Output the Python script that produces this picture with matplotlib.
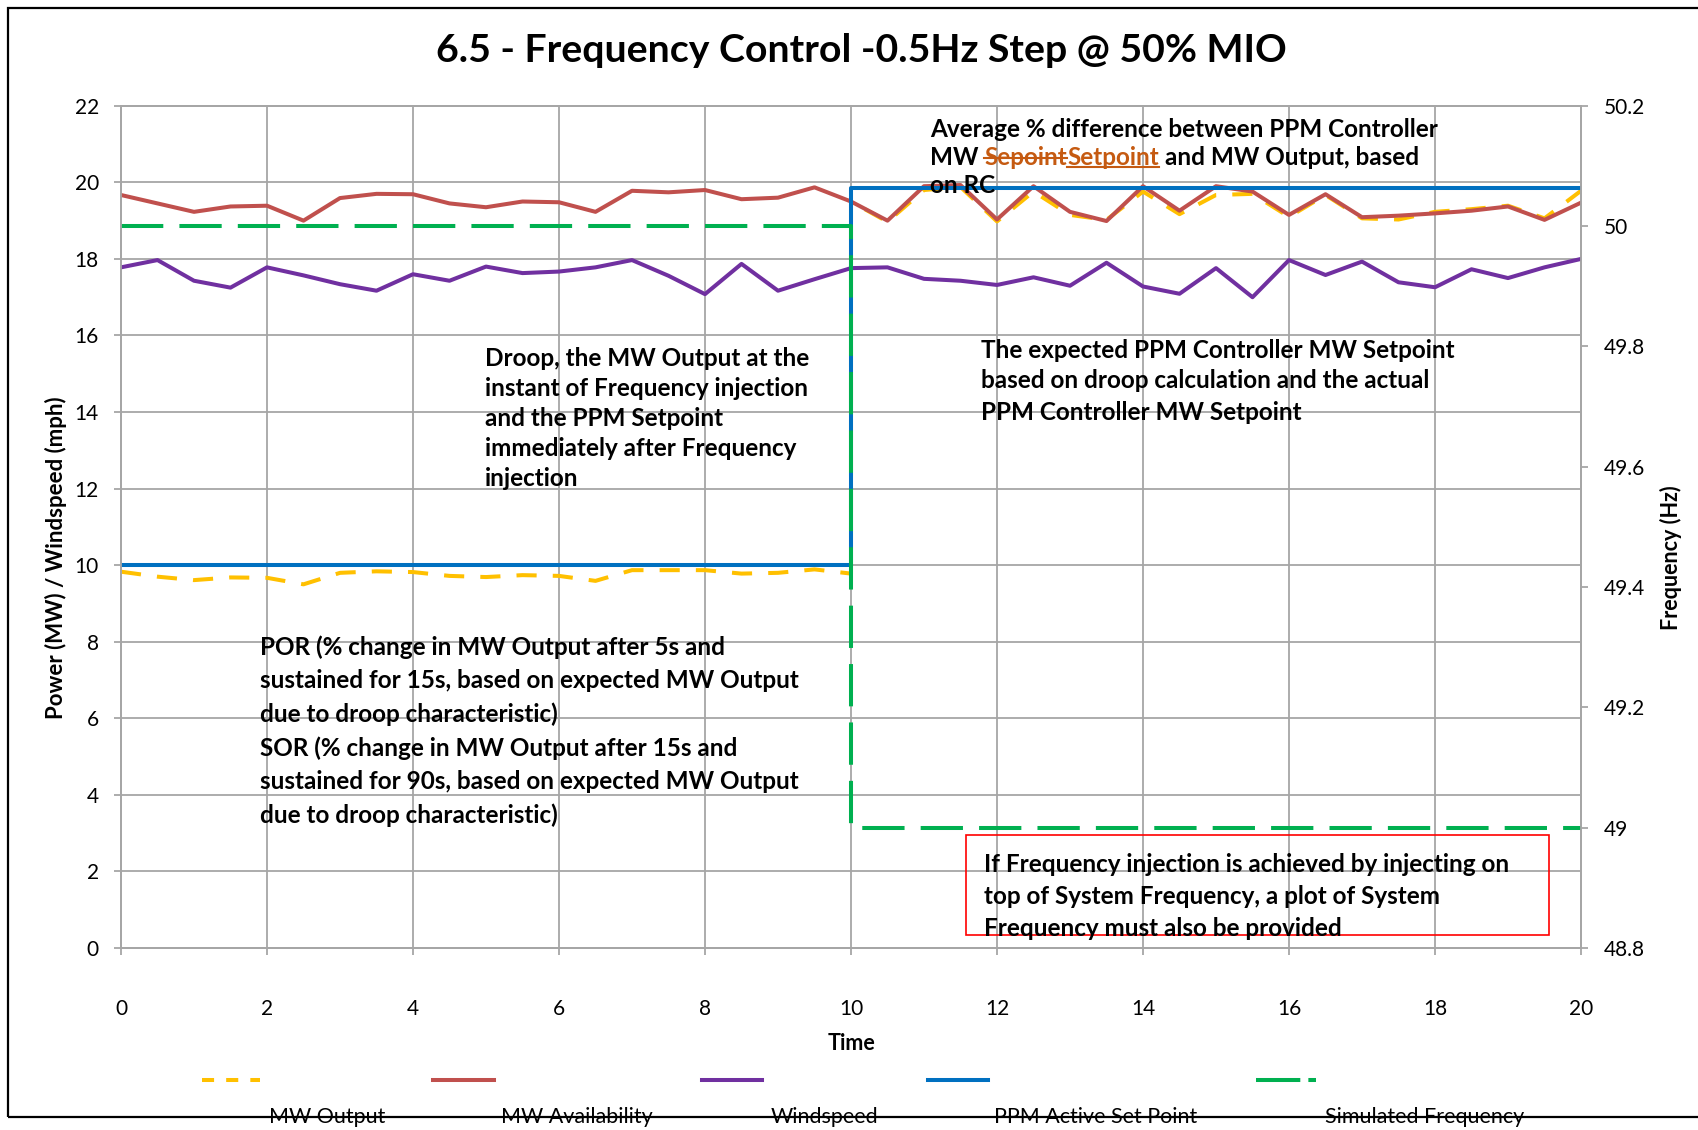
import numpy as np
import matplotlib
matplotlib.use('Agg')
import matplotlib.pyplot as plt
from matplotlib.lines import Line2D
from matplotlib.patches import Rectangle

plt.rcParams['font.family'] = ['Lato', 'DejaVu Sans']

# dados
time = np.arange(0, 20.5, 0.5)
mw_output_before = [9.83, 9.70, 9.61, 9.68, 9.67, 9.50, 9.80, 9.84, 9.82, 9.72, 9.69,
                    9.74, 9.72, 9.59, 9.87, 9.87, 9.87, 9.78, 9.80, 9.89, 9.78]
mw_output_after = [19.50, 18.97, 19.80, 19.88, 18.98, 19.76, 19.15, 19.02, 19.76, 19.17, 19.67,
                   19.70, 19.10, 19.67, 19.06, 19.03, 19.23, 19.30, 19.39, 19.06, 19.78]
mw_availability = [19.67, 19.45, 19.23, 19.37, 19.39, 19.00, 19.59, 19.70, 19.69, 19.45, 19.35,
                   19.50, 19.48, 19.23, 19.78, 19.74, 19.80, 19.56, 19.60, 19.87, 19.50,
                   19.00, 19.90, 19.93, 19.03, 19.90, 19.23, 18.99, 19.90, 19.26, 19.90,
                   19.76, 19.15, 19.69, 19.09, 19.13, 19.19, 19.26, 19.37, 19.02, 19.47]
windspeed = [17.78, 17.97, 17.43, 17.25, 17.78, 17.57, 17.34, 17.17, 17.60, 17.43, 17.80,
             17.63, 17.67, 17.78, 17.97, 17.56, 17.08, 17.87, 17.17, 17.47, 17.76,
             17.78, 17.48, 17.43, 17.32, 17.52, 17.30, 17.90, 17.28, 17.09, 17.76,
             17.00, 17.97, 17.58, 17.93, 17.39, 17.26, 17.73, 17.50, 17.78, 18.00]
step_time = [0, 10, 10, 20]
ppm_set_point = [10.0, 10.0, 19.85, 19.85]
sim_frequency = [50.0, 50.0, 49.0, 49.0]

x_ticks = [0, 2, 4, 6, 8, 10, 12, 14, 16, 18, 20]
left_ticks = [0, 2, 4, 6, 8, 10, 12, 14, 16, 18, 20, 22]
right_ticks = [48.8, 49.0, 49.2, 49.4, 49.6, 49.8, 50.0, 50.2]
right_labels = ['48.8', '49', '49.2', '49.4', '49.6', '49.8', '50', '50.2']

series_names = ['MW Output', 'MW Availability', 'Windspeed', 'PPM Active Set Point', 'Simulated Frequency']
colors = ['#FFC000', '#C0504D', '#7030A0', '#0070C0', '#00B050']

W, H = 1698, 1130
def fx(x):
    return x / W
def fy(y):
    return 1 - y / H

fig = plt.figure(figsize=(W / 100, H / 100), dpi=100)
ax = fig.add_axes([fx(121), fy(948), (1581 - 121) / W, (948 - 105.8) / H])
ax2 = ax.twinx()

lw = 2.9
grid_c = '#a6a6a6'

t_out = list(time[:21]) + list(time[20:])
ax.plot(t_out, mw_output_before + mw_output_after, color=colors[0], lw=lw, dashes=(5, 4), zorder=2)
ax.plot(time, mw_availability, color=colors[1], lw=lw, zorder=3)
ax.plot(time, windspeed, color=colors[2], lw=lw, zorder=3)
ax.plot(step_time, ppm_set_point, color=colors[3], lw=lw, zorder=4)
ax2.plot(step_time, sim_frequency, color=colors[4], lw=lw, dashes=(10.5, 4))

ax.set_xlim(0, 20)
ax.set_ylim(0, 22)
ax2.set_ylim(48.8, 50.2)
ax.set_xticks(x_ticks)
ax.set_yticks(left_ticks)
ax2.set_yticks(right_ticks)
ax2.set_yticklabels(right_labels)

ax.grid(True, color=grid_c, lw=1.3)
ax.set_axisbelow(True)
for a in (ax, ax2):
    for s in a.spines.values():
        s.set_color(grid_c)
        s.set_linewidth(1.3)
ax.tick_params(axis='x', direction='out', length=5, width=1.3, color=grid_c, pad=32, labelsize=15)
ax.tick_params(axis='y', direction='out', length=5, width=1.3, color=grid_c, pad=11, labelsize=15)
ax2.tick_params(axis='y', direction='out', length=5, width=1.3, color=grid_c, pad=11.5, labelsize=15)

# titulo e rotulos
fig.text(fx(861), fy(51), '6.5 - Frequency Control -0.5Hz Step @ 50% MIO',
         fontsize=28.3, fontweight='bold', ha='center', va='center')
fig.text(fx(56), fy(558), 'Power (MW) / Windspeed (mph)', rotation=90,
         fontsize=16, fontweight='bold', ha='center', va='center')
fig.text(fx(1671), fy(558), 'Frequency (Hz)', rotation=90,
         fontsize=15.5, fontweight='bold', ha='center', va='center')
fig.text(fx(851), fy(1043), 'Time', fontsize=15.5, fontweight='bold', ha='center', va='center')

# legenda feita a mao
leg_x = [(202, 260), (433, 494), (702, 762), (928, 988), (1256, 1316)]
leg_lbl_x = [327, 577, 824, 1096, 1425]
leg_dash = [(3, 3), None, None, None, (11, 2)]
for i in range(5):
    ln = Line2D([fx(leg_x[i][0]), fx(leg_x[i][1])], [fy(1080), fy(1080)], transform=fig.transFigure,
                color=colors[i], lw=lw)
    if leg_dash[i]:
        ln.set_dashes(leg_dash[i])
    fig.add_artist(ln)
    fig.text(fx(leg_lbl_x[i]), fy(1117), series_names[i], fontsize=15.5, ha='center', va='center')

# moldura
fig.add_artist(Rectangle((fx(7.5), fy(1117)), 2.0, (1117 - 7.5) / H, transform=fig.transFigure,
                         fill=False, ec='black', lw=1.6, clip_on=False, zorder=1))

FS = 17.5
def block(x, y0, step, lines):
    for k, s in enumerate(lines):
        fig.text(fx(x), fy(y0 + k * step), s, fontsize=FS, fontweight='bold',
                 ha='left', va='center_baseline')

block(485, 356.7, 30, ['Droop, the MW Output at the', 'instant of Frequency injection',
                       'and the PPM Setpoint', 'immediately after Frequency', 'injection'])
block(981, 348, 31, ['The expected PPM Controller MW Setpoint',
                     'based on droop calculation and the actual', 'PPM Controller MW Setpoint'])
block(260, 645, 33.6, ['POR (% change in MW Output after 5s and',
                       'sustained for 15s, based on expected MW Output',
                       'due to droop characteristic)',
                       'SOR (% change in MW Output after 15s and',
                       'sustained for 90s, based on expected MW Output',
                       'due to droop characteristic)'])
block(984, 863, 32, ['If Frequency injection is achieved by injecting on',
                     'top of System Frequency, a plot of System',
                     'Frequency must also be provided'])
fig.add_artist(Rectangle((fx(966), fy(935)), (1549 - 966) / W, (935 - 835) / H,
                         transform=fig.transFigure, fill=False, ec='red', lw=1.2))

# texto com tachado e sublinhado
block(930, 127.7, 27.7, ['Average % difference between PPM Controller', '', 'on RC'])
r = fig.canvas.get_renderer()
def width(s):
    t = fig.text(0, 0, s, fontsize=FS, fontweight='bold')
    w = t.get_window_extent(r).width
    t.remove()
    return w
sp = width('a a') - width('aa')
orange = '#C55A11'
xp = 930
for txt, col, deco in [('MW', 'black', None), ('Sepoint', orange, 'strike'),
                       ('Setpoint', orange, 'under'), ('and MW Output, based', 'black', None)]:
    t = fig.text(fx(xp), fy(155.4), txt, color=col, fontsize=FS, fontweight='bold',
                 ha='left', va='center_baseline')
    bb = t.get_window_extent(r)
    if deco == 'strike':
        yy = bb.y0 + 0.47 * bb.height
        fig.add_artist(Line2D([bb.x0 / W, bb.x1 / W], [yy / H, yy / H], transform=fig.transFigure,
                              color=orange, lw=1.5))
    if deco == 'under':
        yy = bb.y0 + 0.08 * bb.height
        fig.add_artist(Line2D([bb.x0 / W, bb.x1 / W], [yy / H, yy / H], transform=fig.transFigure,
                              color=orange, lw=1.5))
    xp = bb.x1 + (0 if deco == 'strike' else sp)

fig.savefig('out.png', dpi=100)
